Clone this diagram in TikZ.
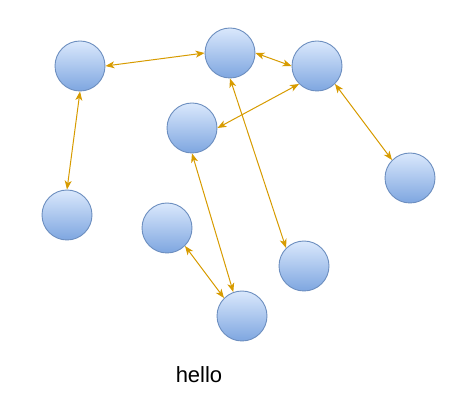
\documentclass[tikz,border=0pt]{standalone}
\usepackage{fontspec}
\setmainfont{Liberation Sans}
\usetikzlibrary{positioning,arrows.meta}

\definecolor{ballline}{HTML}{6C8EBF}
\definecolor{balltop}{HTML}{DAE8FC}
\definecolor{ballbot}{HTML}{7EA6E0}
\definecolor{linkcol}{HTML}{D79B00}

\begin{document}
\begin{tikzpicture}[x=1pt,y=-1pt,
						ball/.style={circle,draw=ballline,line width=0.9pt,top color=balltop,bottom color=ballbot,inner sep=0pt,minimum size=50pt},
						link/.style={draw=linkcol,line width=1pt,{Stealth[length=9pt,width=7pt,inset=2.5pt]}-{Stealth[length=9pt,width=7pt,inset=2.5pt]}}]
		\useasboundingbox (0,0) rectangle (469,403);
		\node[ball]		(1)		at (80,66)		{};
		\node[ball]		(2)		at (230,53)		{};
		\node[ball]		(3)		at (317,66)		{};
		\node[ball]		(4)		at (192,128)	{};
		\node[ball]		(5)		at (410,178)	{};
		\node[ball]		(6)		at (67,215)		{};
		\node[ball]		(7)		at (167,228)	{};
		\node[ball]		(8)		at (304,266)	{};
		\node[ball]		(9)		at (242,316)	{};
		\node[font=\fontsize{22}{25}\selectfont]	(hello)	at (199,375)	{hello};

		\draw[link] (1.east) -- (2.west);
		\draw[link] (2.east) -- (3.west);
		\draw[link] (3.225) -- (4.east);
		\draw[link] (1.south) -- (6.north);
		\draw[link] (3.-45) -- (5.135);
		\draw[link] (2.south) -- (8.135);
		\draw[link] (4.south) -- (9.110);
		\draw[link] (7.-45) -- (9.135);
	\end{tikzpicture}
\end{document}
